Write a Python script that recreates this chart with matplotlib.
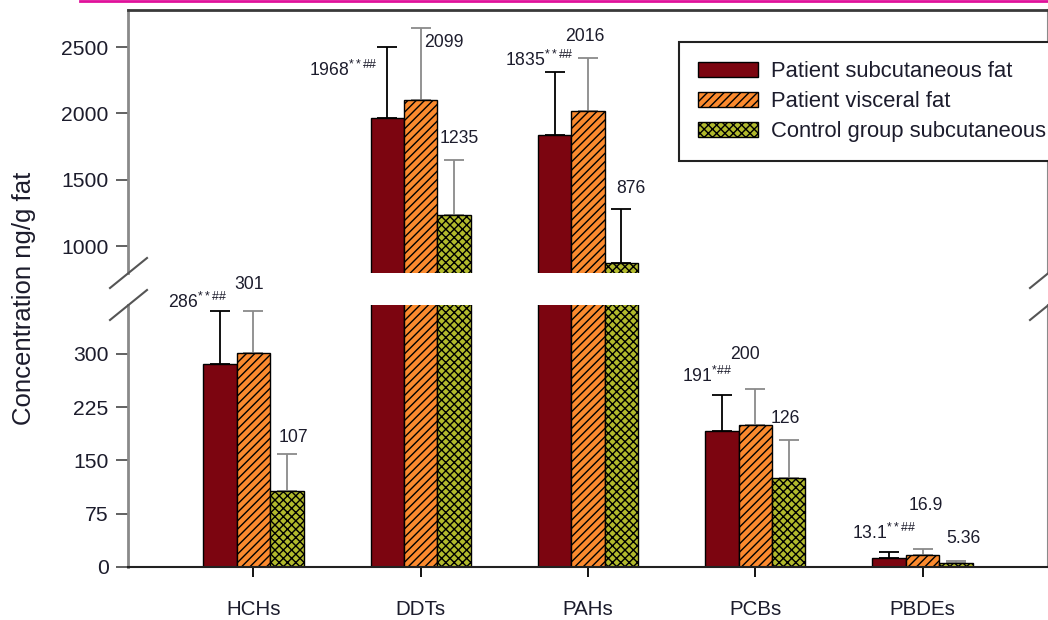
import matplotlib
matplotlib.use("Agg")
import matplotlib.pyplot as plt
import numpy as np
from matplotlib.lines import Line2D

plt.rcParams['font.family'] = ['Liberation Sans', 'DejaVu Sans']
plt.rcParams['mathtext.fontset'] = 'custom'
plt.rcParams['mathtext.rm'] = 'Liberation Sans'
plt.rcParams['mathtext.it'] = 'Liberation Sans'
plt.rcParams['hatch.linewidth'] = 1.0

# pollutant groups and mean concentrations (ng/g fat)
groups = ['HCHs', 'DDTs', 'PAHs', 'PCBs', 'PBDEs']
series = ['Patient subcutaneous fat', 'Patient visceral fat', 'Control group subcutaneous']
subcut = [286, 1968, 1835, 191, 13.1]
visceral = [301, 2099, 2016, 200, 16.9]
control = [107, 1235, 876, 126, 5.36]

# upper standard deviations
subcut_sd = [74, 532, 477, 51, 8]
visceral_sd = [59, 544, 401, 51, 8]
control_sd = [52, 415, 406, 53, 3]

# value labels as printed
subcut_lbl = [r'286$^{**\#\#}$', r'1968$^{**\#\#}$', r'1835$^{**\#\#}$', r'191$^{*\#\#}$', r'13.1$^{**\#\#}$']
visceral_lbl = ['301', '2099', '2016', '200', '16.9']
control_lbl = ['107', '1235', '876', '126', '5.36']

# label offsets in pixels from the error-bar cap
subcut_off = [(-23, 9), (-44, -23), (-15, 12), (-15, 19), (-5, 19)]
visceral_off = [(-4, 27), (23, -14), (-3, 22), (-10, 34), (3, 44)]
control_off = [(7, 17), (5, 21), (9, 20), (-3, 21), (7, 23)]

colors = ['#7c0510', '#fb8a2e', '#b2ba2c']
hatches = [None, '////', 'xxxx']
err_colors = [['k'] * 5, ['#8a8a8a'] * 5, ['#8a8a8a', '#8a8a8a', 'k', '#8a8a8a', '#8a8a8a']]

W, H = 1048, 620
fig = plt.figure(figsize=(W / 100, H / 100), dpi=100)
ax_top = fig.add_axes([128 / W, 1 - 273 / H, 920 / W, 263 / H])
ax_bot = fig.add_axes([128 / W, 1 - 567 / H, 920 / W, 262 / H])

x = np.arange(len(groups))
width = 0.2
vals = [subcut, visceral, control]
sds = [subcut_sd, visceral_sd, control_sd]
lbls = [subcut_lbl, visceral_lbl, control_lbl]
offs = [subcut_off, visceral_off, control_off]

bot_max = 369
for ax in (ax_top, ax_bot):
    for i in range(3):
        xs = x + (i - 1) * width
        ax.bar(xs, vals[i], width, color=colors[i], edgecolor='k', linewidth=1.0,
               hatch=hatches[i], label=series[i], zorder=2)
        for j in range(len(groups)):
            ax.errorbar(xs[j], vals[i][j], yerr=[[0], [sds[i][j]]], fmt='none',
                        ecolor=err_colors[i][j], elinewidth=1.3, capsize=7.5,
                        capthick=1.3, zorder=1)

# value labels go on whichever panel shows the cap
for i in range(3):
    xs = x + (i - 1) * width
    for j in range(len(groups)):
        top = vals[i][j] + sds[i][j]
        ax = ax_bot if top < bot_max else ax_top
        ax.annotate(lbls[i][j], (xs[j], top), xytext=offs[i][j], textcoords='offset pixels',
                    ha='center', va='center', fontsize=12.7, color='#1c1c2c')

ax_top.set_xlim(-0.75, 4.75)
ax_bot.set_xlim(-0.75, 4.75)
ax_top.set_ylim(797, 2779)
ax_bot.set_ylim(0, bot_max)

ax_top.set_yticks([1000, 1500, 2000, 2500])
ax_bot.set_yticks([0, 75, 150, 225, 300])
ax_top.set_xticks([])
ax_bot.set_xticks(x)
ax_bot.set_xticklabels(groups)

for ax in (ax_top, ax_bot):
    ax.tick_params(axis='y', direction='out', length=9, width=1.3, color='#555555',
                   labelsize=15.2, pad=5, labelcolor='#1c1c2c')
    ax.spines['left'].set_color('#8a8a8a')
    ax.spines['left'].set_linewidth(2)
    ax.spines['right'].set_color('#8a8a8a')
    ax.spines['right'].set_linewidth(1.5)
    ax.set_facecolor('none')

ax_bot.tick_params(axis='x', direction='out', length=7, width=1.3, labelsize=14.8, pad=17,
                   labelcolor='#1c1c2c')
ax_top.spines['bottom'].set_visible(False)
ax_top.spines['top'].set_color('#3a3a3a')
ax_top.spines['top'].set_linewidth(2)
ax_bot.spines['top'].set_visible(False)
ax_bot.spines['bottom'].set_color('#222222')
ax_bot.spines['bottom'].set_linewidth(1.5)

fig.text(24 / W, 1 - 298 / H, 'Concentration ng/g fat', rotation=90, ha='center', va='center',
         fontsize=18.5, color='#1c1c2c')

leg = ax_top.legend(loc='upper left', bbox_to_anchor=(679 / W, 1 - 42 / H),
                    bbox_transform=fig.transFigure, fontsize=15.8, fancybox=False,
                    edgecolor='#222222', framealpha=1, borderpad=0.88, borderaxespad=0,
                    labelspacing=0.4, handlelength=2.7, handleheight=0.7,
                    handletextpad=0.6)
leg.get_frame().set_linewidth(1.5)
for t in leg.get_texts():
    t.set_color('#1c1c2c')


# axis break marks, drawn in figure pixels
def px_line(x0, y0, x1, y1, **kw):
    fig.add_artist(Line2D([x0 / W, x1 / W], [1 - y0 / H, 1 - y1 / H],
                          transform=fig.transFigure, **kw))


for xb in (128, 1048):
    px_line(xb - 18, 288, xb + 19, 258, color='#555555', lw=1.5)
    px_line(xb - 18, 320, xb + 19, 290, color='#555555', lw=1.5)

px_line(80, 0.8, 1048, 0.8, color='#e0119a', lw=2)

fig.savefig('out.png', dpi=100)
